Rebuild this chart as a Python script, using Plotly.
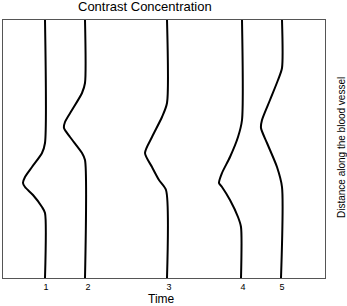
import plotly.graph_objects as go

# Time axis positions (arbitrary units) of the five snapshots and their labels
tick_pos = [43, 85, 166, 240, 279]
tick_labels = ["1", "2", "3", "4", "5"]

# Distance along vessel (0 = bottom) and concentration-profile positions per curve
d1 = [258, 135, 125, 111, 101, 95, 91, 83, 71, 65, 0]
c1 = [42, 42, 39, 29, 22, 20, 22, 30, 39, 42, 42]

d2 = [258, 195, 185, 168, 156, 150, 141, 125, 118, 0]
c2 = [82, 82, 79, 69, 62, 61, 67, 79, 82, 82]

d3 = [258, 175, 161, 141, 125, 111, 98, 88, 0]
c3 = [164, 164, 159, 149, 142, 149, 156, 163, 164]

d4 = [258, 158, 141, 121, 105, 95, 91, 78, 61, 51, 0]
c4 = [239, 239, 235, 227, 219, 216, 219, 227, 235, 238, 238]

d5 = [258, 210, 198, 178, 158, 150, 135, 111, 91, 0]
c5 = [279, 279, 275, 267, 259, 258, 264, 274, 279, 278]

curves = [(c1, d1), (c2, d2), (c3, d3), (c4, d4), (c5, d5)]

W, H = 347, 306
fig = go.Figure()
for c, d in curves:
    fig.add_trace(go.Scatter(x=c, y=d, mode="lines",
                             line=dict(color="black", width=2, shape="spline", smoothing=0.7),
                             showlegend=False, hoverinfo="skip"))

font = "Liberation Sans, Arial, sans-serif"
fig.update_layout(
    width=W, height=H,
    margin=dict(l=3, r=22, t=20, b=28),
    paper_bgcolor="white", plot_bgcolor="white",
    font=dict(family=font, color="black"),
    xaxis=dict(range=[0, 322], showgrid=False, zeroline=False,
               tickmode="array", tickvals=tick_pos, ticktext=tick_labels,
               ticks="", tickfont=dict(size=9), showline=True, mirror=True,
               linecolor="#555", linewidth=1),
    yaxis=dict(range=[0, 258], showgrid=False, zeroline=False,
               showticklabels=False, ticks="", showline=True, mirror=True,
               linecolor="#555", linewidth=1),
    annotations=[
        dict(text="Contrast Concentration", xref="paper", yref="paper",
             x=(145 - 3) / 322, y=1 + 13 / 258, xanchor="center", yanchor="middle",
             showarrow=False, font=dict(size=13)),
        dict(text="Time", xref="paper", yref="paper",
             x=(161 - 3) / 322, y=-(299 - 278) / 258, xanchor="center", yanchor="middle",
             showarrow=False, font=dict(size=12)),
        dict(text="Distance along the blood vessel", xref="paper", yref="paper",
             x=(341 - 3) / 322, y=(278 - 148) / 258, xanchor="center", yanchor="middle",
             textangle=-90, showarrow=False, font=dict(size=10)),
    ],
)
fig.write_html("out.html")
